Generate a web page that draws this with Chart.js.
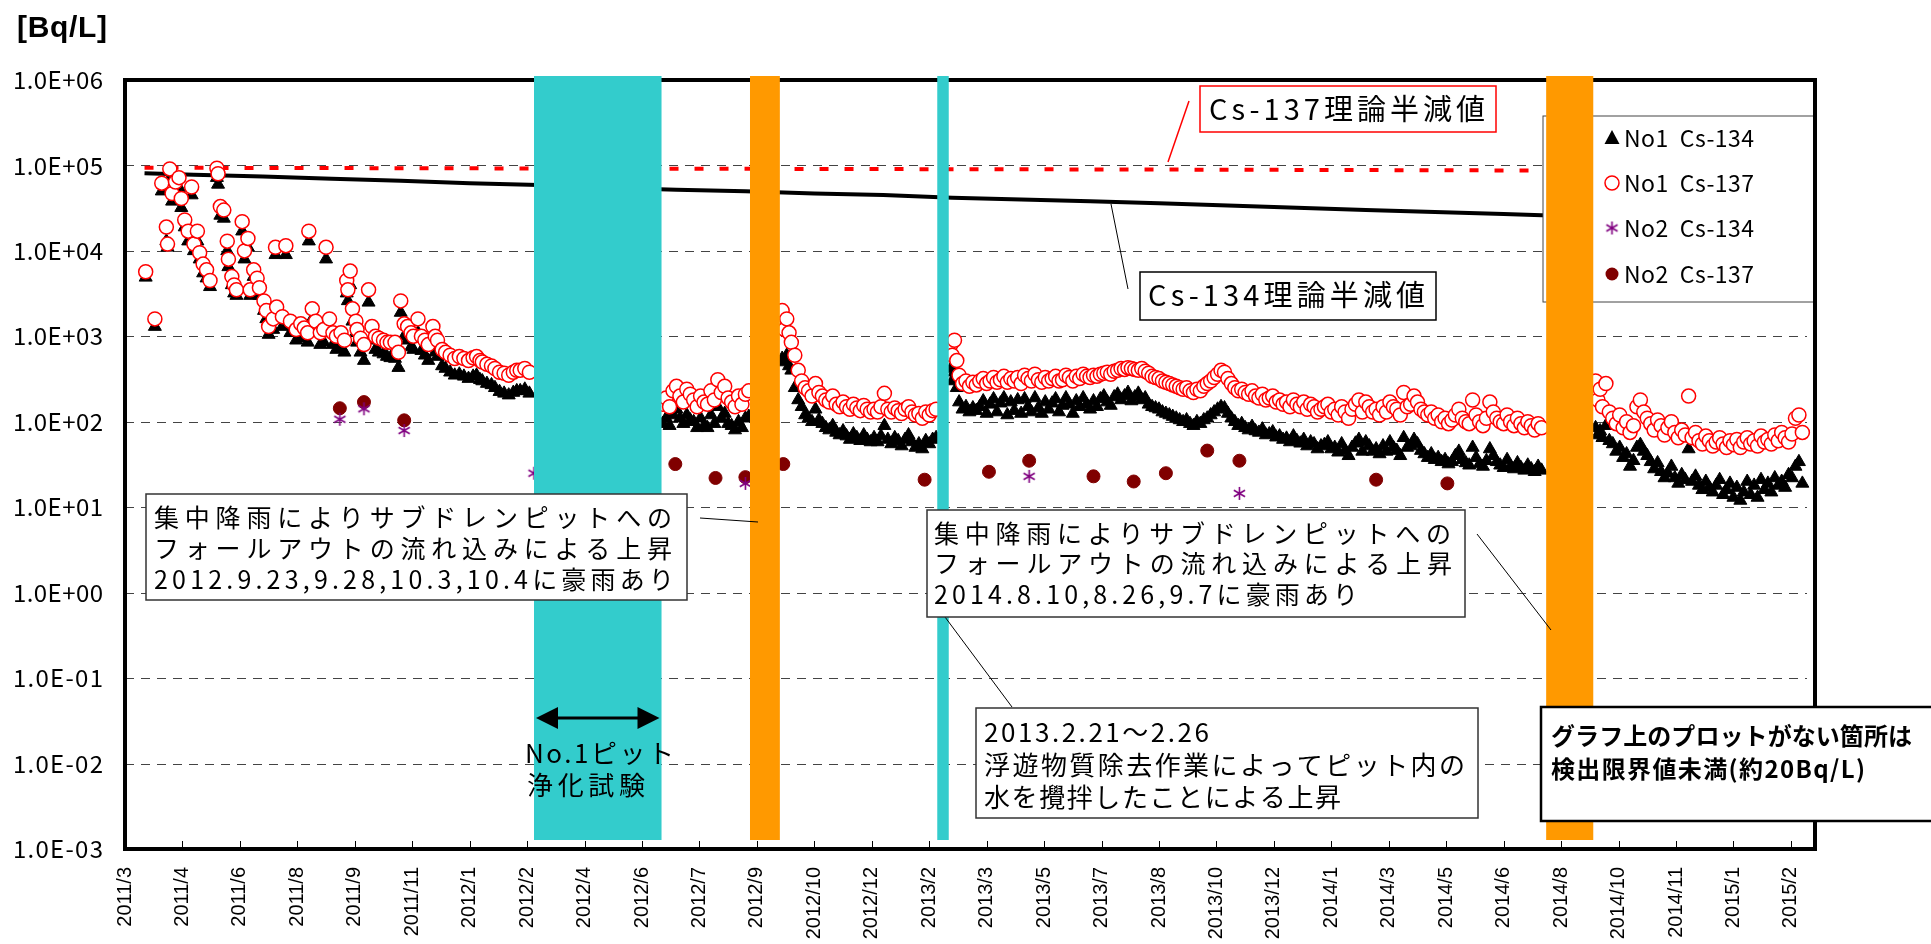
<!DOCTYPE html>
<html>
<head>
<meta charset="UTF-8">
<title>サブドレンピット Cs濃度推移</title>
<script src="https://cdn.jsdelivr.net/npm/chart.js"></script>
<style>
    html, body { margin: 0; padding: 0; background: #fff; }
    canvas { display: block; }
</style>
</head>
<body>
<canvas id="chart" width="1931" height="944"></canvas>
<script>
// x は 2011/3/11 からの経過日数（目盛は50日ごと）
const tickStep = 50;
const xMax = 1471;
const xTickLabels = ['2011/3','2011/4','2011/6','2011/8','2011/9','2011/11','2012/1','2012/2','2012/4','2012/6',
    '2012/7','2012/9','2012/10','2012/12','2013/2','2013/3','2013/5','2013/7','2013/8','2013/10',
    '2013/12','2014/1','2014/3','2014/5','2014/6','2014/8','2014/10','2014/11','2015/1','2015/2'];
const yTickValues = [1e-3, 1e-2, 1e-1, 1, 10, 100, 1e3, 1e4, 1e5, 1e6];
const yTickLabels = ['1.0E-03','1.0E-02','1.0E-01','1.0E+00','1.0E+01','1.0E+02','1.0E+03','1.0E+04','1.0E+05','1.0E+06'];

// No1 サンプリング日
const no1Days = [
    18,26,32,36,37,39,41,44,47,49, 52,55,58,60,63,65,68,71,74,80,
    81,83,86,89,90,93,95,97,102,104, 107,109,112,115,117,121,123,125,129,131,
    132,137,140,144,149,153,156,159,160,163, 166,170,173,175,178,181,184,188,191,193,
    194,196,198,201,202,205,208,212,215,218, 221,225,228,231,235,238,240,243,246,249,
    251,255,258,261,264,268,270,272,276,279, 283,287,291,295,299,303,306,309,311,315,
    319,322,326,330,334,338,341,344,348,352,
    468,471,474,477,480,483,486,489,492,495, 498,501,504,507,510,513,516,519,522,525,
    528,531,534,537,540,543,
    572,574,576,578,580,583,586,589,592,595, 598,601,604,607,610,613,616,619,622,625,
    628,631,634,637,640,643,646,649,652,655, 658,661,664,667,670,673,676,679,682,685,
    688,691,694,697,700,703,706,
    719,720,722,724,726,729,732,735,738,741, 744,747,750,753,756,759,762,765,768,771,
    774,777,780,783,786,789,792,795,798,801, 804,807,810,813,816,819,822,825,828,831,
    834,837,840,843,846,849,852,855,858,861, 864,867,870,873,876,879,882,885,888,891,
    894,897,900,903,906,909,912,915,918,921, 924,927,930,933,936,939,942,945,948,951,
    954,957,960,963,966,969,972,975,978,981, 984,987,990,993,996,999,1002,1005,1008,1011,
    1014,1017,1020,1023,1026,1029,1032,1035,1038,1041, 1044,1047,1050,1053,1056,1059,1062,1065,1068,1071,
    1074,1077,1080,1083,1086,1089,1092,1095,1098,1101, 1104,1107,1110,1113,1116,1119,1122,1125,1128,1131,
    1134,1137,1140,1143,1146,1149,1152,1155,1158,1161, 1164,1167,1170,1173,1176,1179,1182,1185,1188,1191,
    1194,1197,1200,1203,1206,1209,1212,1215,1218,1221, 1224,1227,1230,1233,
    1280,1282,1284,1286,1289,1292,1295,1298,1301,1304, 1307,1310,1313,1316,1319,1322,1325,1328,1331,1334,
    1337,1340,1343,1346,1349,1352,1355,1358,1361,1364, 1367,1370,1373,1376,1379,1382,1385,1388,1391,1394,
    1397,1400,1403,1406,1409,1412,1415,1418,1421,1424, 1427,1430,1433,1436,1439,1442,1445,1448,1451,1454,
    1457,1460
];
const no1Cs137 = [
    5700,1600,62000,19000,12000,91000,47000,64000,72000,41000, 23000,17000,56000,12000,17000,9500,7000,6000,4500,93000,
    80000,33000,30000,13000,8000,5000,4000,3500,22000,10000, 14000,3500,6000,4800,3700,2600,2000,1300,1600,11000,
    2200,1700,11500,1500,1200,1400,1250,1100,17000,2100, 1500,1100,1200,11000,1600,1100,1000,1100,900,4500,
    3500,5800,2100,1500,1200,950,800,3500,1300,1000, 950,900,850,850,850,650,2600,1400,1300,1100,
    1000,1600,1000,900,800,1300,1000,900,700,650, 600,550,580,550,520,560,580,520,500,470,
    450,420,380,370,350,380,400,400,420,380,
    160,190,150,230,260,200,170,240,210,180, 150,200,170,160,230,180,310,220,260,190,
    170,150,200,160,210,230,
    2000,1200,1600,1100,850,600,400,300,250,230, 200,280,220,200,180,170,200,160,150,170,
    150,140,160,145,135,155,140,130,140,130, 150,215,140,130,145,135,125,140,150,130,
    120,125,110,130,120,135,140,
    800,600,900,520,350,280,300,260,290,270, 300,320,280,300,330,290,310,340,290,320,
    300,330,280,350,320,300,360,310,290,330, 300,320,340,300,310,350,330,300,340,320,
    360,340,330,350,340,360,370,380,360,390, 400,420,410,430,420,410,400,420,390,370,
    340,330,320,300,290,280,270,260,250,240, 250,230,220,240,230,260,280,300,330,360,
    400,380,320,280,250,230,240,220,210,230, 200,190,210,180,190,200,170,180,160,170,
    150,180,160,150,170,140,160,150,130,140, 150,160,130,140,120,150,130,110,140,160,
    180,130,170,150,130,140,120,150,130,170, 150,140,120,220,150,160,200,170,140,130,
    120,130,110,120,100,110,95,105,120,140, 110,100,95,180,120,100,90,110,170,130,
    110,100,95,120,100,90,110,95,85,100, 90,80,95,85,
    300,180,240,150,280,130,110,95,120,85, 100,75,90,150,180,130,110,95,80,105,
    90,70,85,100,75,65,80,70,200,65, 75,60,55,68,60,52,58,65,55,50,
    60,54,62,50,58,65,55,60,52,68, 58,62,55,70,60,75,65,58,72,110,
    120,75
];
const no1Cs134 = [
    4900,1300,50000,13000,11000,70000,38000,50000,55000,32000, 19000,13000,45000,10000,13000,8000,5500,4800,3800,72000,
    60000,26000,24000,10000,6500,4000,3200,3000,17000,8000, 11000,3000,5000,4000,3000,2000,1600,1050,1200,9000,
    1800,1300,9000,1100,900,1000,950,850,13000,1600, 1100,800,850,8000,1200,800,700,750,650,3200,
    2600,4000,1500,1100,850,650,520,2500,900,700, 650,620,580,560,550,430,1900,1000,900,750,
    700,1100,680,600,520,850,650,580,450,420, 380,350,360,340,320,340,350,310,300,280,
    270,250,225,215,205,220,230,230,240,215,
    95,110,90,120,140,110,95,120,105,100, 85,110,90,85,120,95,150,110,125,95,
    90,80,100,85,110,115,
    550,500,600,450,400,250,180,150,120,110, 100,140,105,95,85,80,90,75,70,78,
    68,62,72,65,60,70,62,58,65,58, 68,90,62,55,65,60,52,62,70,58,
    50,55,48,60,55,62,65,
    420,300,380,250,170,140,150,130,145,135, 150,175,125,160,185,130,165,190,120,170,
    135,180,125,185,150,130,190,145,125,170, 140,165,185,130,155,190,160,125,175,150,
    190,160,140,175,150,185,200,170,155,195, 210,180,200,220,175,195,215,180,190,160,
    150,145,140,130,125,120,115,110,105,100, 105,95,90,100,95,105,110,120,130,140,
    150,145,125,110,100,90,95,85,80,88, 78,75,82,70,72,76,66,68,62,64,
    58,68,60,56,62,52,58,55,48,52, 54,58,48,50,44,55,46,40,50,56,
    62,45,58,52,45,48,42,52,45,58, 50,46,40,65,50,52,62,55,46,42,
    38,42,36,38,34,36,32,34,40,45, 36,33,31,50,38,32,30,35,48,40,
    34,31,29,36,30,28,33,29,27,31, 28,26,30,27,
    85,70,78,65,90,60,55,45,50,38, 42,30,35,50,54,45,40,34,28,33,
    26,22,25,30,22,19,24,21,48,20, 23,18,16,20,17,15,18,21,14,16,
    19,13,17,12,15,20,14,18,13,21, 16,19,15,22,18,20,17,24,22,30,
    34,19
];

// No2
const no2Days137 = [187, 208, 243, 479, 514, 540, 573, 696, 752, 787, 843, 878, 906, 942, 970, 1089, 1151];
const no2Cs137 = [144, 170, 104, 32, 22, 22.5, 32, 21, 26, 35, 23, 20, 25, 46, 35, 21, 19];
const no2Days134 = [187, 208, 243, 356, 540, 787, 970];
const no2Cs134 = [107, 142, 79, 25, 19, 23, 14.5];

// 理論半減値
const theoryDays134 = [17,60,120,180,240,300,360,420,480,540,600,660,720,780,840,900,960,1020,1080,1140,1200,1260,1320,1380,1440,1460];
const theoryCs134 = [81000,78000,74000,70000,66000,62000,59000,55000,52000,50000,47000,45000,42000,40000,38000,36000,34000,32000,30000,28500,27000,25500,24000,23000,21500,21000];
const theoryDays137 = [17, 300, 600, 900, 1200, 1460];
const theoryCs137 = [94000, 92500, 91000, 89500, 87500, 86000];

// 期間帯（日数）
const cyanBands = [[356, 467], [707, 717]];
const orangeBands = [[544, 570], [1237, 1278]];

const JP = '"Noto Sans CJK JP", "Noto Sans", sans-serif';
const LAT = '"Liberation Sans", Arial, sans-serif';

function pts(xs, ys) {
    const n = Math.min(xs.length, ys.length);
    const out = [];
    for (let i = 0; i < n; i++) out.push({x: xs[i], y: ys[i]});
    return out;
}

function makeAsterisk(color, size) {
    const c = document.createElement('canvas');
    c.width = size; c.height = size;
    const g = c.getContext('2d');
    g.strokeStyle = color;
    g.lineWidth = 1.6;
    const m = size / 2, r = size / 2 - 1;
    g.beginPath();
    [90, 30, 150].forEach(function(a) {
        const t = a * Math.PI / 180;
        g.moveTo(m - r * Math.cos(t), m - r * Math.sin(t));
        g.lineTo(m + r * Math.cos(t), m + r * Math.sin(t));
    });
    g.stroke();
    return c;
}
const asterisk = makeAsterisk('#800080', 15);

// 文字列を x0〜x1 に収まるよう字間を調整して描く
function spread(ctx, text, x0, x1, y) {
    ctx.letterSpacing = '0px';
    const w = ctx.measureText(text).width;
    const n = Array.from(text).length;
    const s = n > 1 ? (x1 - x0 - w) / (n - 1) : 0;
    ctx.letterSpacing = s.toFixed(2) + 'px';
    ctx.fillText(text, x0, y);
    ctx.letterSpacing = '0px';
}

function box(ctx, x0, y0, x1, y1, color, lw) {
    ctx.fillStyle = '#fff';
    ctx.fillRect(x0, y0, x1 - x0, y1 - y0);
    ctx.strokeStyle = color;
    ctx.lineWidth = lw;
    ctx.strokeRect(x0, y0, x1 - x0, y1 - y0);
}

function line(ctx, x0, y0, x1, y1, color, lw) {
    ctx.strokeStyle = color;
    ctx.lineWidth = lw;
    ctx.beginPath();
    ctx.moveTo(x0, y0);
    ctx.lineTo(x1, y1);
    ctx.stroke();
}

const overlay = {
    id: 'overlay',
    beforeDatasetsDraw(chart) {
        const {ctx, chartArea: a, scales: {y}} = chart;
        ctx.save();
        ctx.strokeStyle = '#444';
        ctx.lineWidth = 1;
        ctx.setLineDash([9, 7]);
        yTickValues.slice(1, -1).forEach(function(v) {
            const py = Math.round(y.getPixelForValue(v)) + 0.5;
            ctx.beginPath();
            ctx.moveTo(a.left, py);
            ctx.lineTo(a.right - 8, py);
            ctx.stroke();
        });
        ctx.setLineDash([]);
        // y 軸目盛ラベル
        ctx.fillStyle = '#000';
        ctx.font = '24px ' + JP;
        ctx.textBaseline = 'middle';
        ctx.textAlign = 'left';
        yTickLabels.forEach(function(t, i) {
            spread(ctx, t, 13, 103, y.getPixelForValue(yTickValues[i]));
        });
        ctx.restore();
    },
    afterDatasetsDraw(chart) {
        const {ctx, chartArea: a, scales: {x}} = chart;
        ctx.save();

        // 凡例
        box(ctx, 1543, 116, a.right, 302, '#444', 1);
        const ly = [138, 183, 228, 274];
        const lx = 1612;
        ctx.fillStyle = '#000';
        ctx.beginPath();
        ctx.moveTo(lx, ly[0] - 8); ctx.lineTo(lx + 7.5, ly[0] + 6); ctx.lineTo(lx - 7.5, ly[0] + 6);
        ctx.closePath(); ctx.fill();
        ctx.beginPath(); ctx.arc(lx, ly[1], 7, 0, Math.PI * 2);
        ctx.fillStyle = '#fff'; ctx.fill();
        ctx.strokeStyle = '#f00'; ctx.lineWidth = 1.5; ctx.stroke();
        ctx.drawImage(asterisk, lx - 7.5, ly[2] - 7.5);
        ctx.beginPath(); ctx.arc(lx, ly[3], 6.5, 0, Math.PI * 2);
        ctx.fillStyle = '#800000'; ctx.fill();
        ctx.fillStyle = '#000';
        ctx.font = '23px ' + JP;
        ctx.textBaseline = 'middle';
        ctx.textAlign = 'left';
        ['No1  Cs-134', 'No1  Cs-137', 'No2  Cs-134', 'No2  Cs-137'].forEach(function(t, i) {
            spread(ctx, t, 1624, 1754, ly[i]);
        });

        // 枠と目盛
        ctx.strokeStyle = '#000';
        ctx.lineWidth = 4;
        ctx.strokeRect(a.left, a.top, a.right - a.left, a.bottom - a.top);
        ctx.lineWidth = 1;
        xTickLabels.forEach(function(_, i) {
            const px = Math.round(x.getPixelForValue(i * tickStep)) + 0.5;
            ctx.beginPath();
            ctx.moveTo(px, a.bottom - 2);
            ctx.lineTo(px, a.bottom - 8);
            ctx.stroke();
        });

        // 期間帯
        const bt = a.top - 4, bb = a.bottom - 9;
        ctx.fillStyle = '#33CCCC';
        cyanBands.forEach(function(b) {
            const x0 = x.getPixelForValue(b[0]), x1 = x.getPixelForValue(b[1]);
            ctx.fillRect(x0, bt, x1 - x0, bb - bt);
        });
        ctx.fillStyle = '#FF9900';
        orangeBands.forEach(function(b) {
            const x0 = x.getPixelForValue(b[0]), x1 = x.getPixelForValue(b[1]);
            ctx.fillRect(x0, bt, x1 - x0, bb - bt);
        });

        // No.1ピット浄化試験
        const ax0 = x.getPixelForValue(cyanBands[0][0]) + 2;
        const ax1 = x.getPixelForValue(cyanBands[0][1]) - 2;
        const ay = 718;
        ctx.fillStyle = '#000';
        line(ctx, ax0 + 18, ay, ax1 - 18, ay, '#000', 3);
        ctx.beginPath();
        ctx.moveTo(ax0, ay); ctx.lineTo(ax0 + 22, ay - 11); ctx.lineTo(ax0 + 22, ay + 11); ctx.closePath(); ctx.fill();
        ctx.beginPath();
        ctx.moveTo(ax1, ay); ctx.lineTo(ax1 - 22, ay - 11); ctx.lineTo(ax1 - 22, ay + 11); ctx.closePath(); ctx.fill();
        ctx.font = '26px ' + JP;
        ctx.textBaseline = 'middle';
        spread(ctx, 'No.1ピット', 525, 674, 753);
        spread(ctx, '浄化試験', 527, 645, 785);

        // 引出線
        line(ctx, 1189, 101, 1168, 162, '#f00', 1.5);
        line(ctx, 1111, 204, 1128, 289, '#000', 1);
        line(ctx, 700, 518, 758, 522, '#000', 1);
        line(ctx, 1477, 534, 1551, 630, '#000', 1);
        line(ctx, 945, 617, 1012, 707, '#000', 1);

        // 理論半減値ラベル
        box(ctx, 1200, 86, 1496, 132, '#f00', 1.5);
        box(ctx, 1140, 272, 1436, 320, '#000', 1.5);
        ctx.fillStyle = '#000';
        ctx.font = '29px ' + JP;
        spread(ctx, 'Cs-137理論半減値', 1209, 1485, 109);
        spread(ctx, 'Cs-134理論半減値', 1148, 1425, 295);

        // コメント
        box(ctx, 146, 494, 687, 600, '#333', 1.5);
        ctx.fillStyle = '#000';
        ctx.font = '25px ' + JP;
        spread(ctx, '集中降雨によりサブドレンピットへの', 154, 672, 517);
        spread(ctx, 'フォールアウトの流れ込みによる上昇', 154, 672, 548);
        spread(ctx, '2012.9.23,9.28,10.3,10.4に豪雨あり', 154, 674, 579);

        box(ctx, 927, 510, 1465, 617, '#333', 1.5);
        ctx.fillStyle = '#000';
        spread(ctx, '集中降雨によりサブドレンピットへの', 934, 1451, 533);
        spread(ctx, 'フォールアウトの流れ込みによる上昇', 934, 1452, 563);
        spread(ctx, '2014.8.10,8.26,9.7に豪雨あり', 934, 1358, 594);

        box(ctx, 976, 708, 1478, 818, '#333', 1.5);
        ctx.fillStyle = '#000';
        ctx.font = '26px ' + JP;
        spread(ctx, '2013.2.21～2.26', 984, 1209, 732);
        spread(ctx, '浮遊物質除去作業によってピット内の', 984, 1465, 765);
        spread(ctx, '水を攪拌したことによる上昇', 984, 1341, 797);

        box(ctx, 1541, 707, 1940, 821, '#000', 2.5);
        ctx.fillStyle = '#000';
        ctx.font = 'bold 24px ' + JP;
        spread(ctx, 'グラフ上のプロットがない箇所は', 1551, 1912, 736);
        spread(ctx, '検出限界値未満(約20Bq/L)', 1551, 1865, 769);

        // 単位
        ctx.font = 'bold 30px ' + LAT;
        ctx.textBaseline = 'alphabetic';
        spread(ctx, '[Bq/L]', 17, 107, 37);

        ctx.restore();
    }
};

new Chart(document.getElementById('chart').getContext('2d'), {
    type: 'scatter',
    data: {
        datasets: [
            {
                label: 'No1 Cs-134',
                data: pts(no1Days, no1Cs134),
                pointStyle: 'triangle',
                pointRadius: 7.5,
                backgroundColor: '#000',
                borderColor: '#000',
                borderWidth: 1,
                order: 2
            },
            {
                label: 'No1 Cs-137',
                data: pts(no1Days, no1Cs137),
                pointStyle: 'circle',
                pointRadius: 7,
                backgroundColor: '#fff',
                borderColor: '#f00',
                borderWidth: 1.5,
                order: 1
            },
            {
                label: 'No2 Cs-134',
                data: pts(no2Days134, no2Cs134),
                pointStyle: asterisk,
                pointRadius: 7,
                order: 0
            },
            {
                label: 'No2 Cs-137',
                data: pts(no2Days137, no2Cs137),
                pointStyle: 'circle',
                pointRadius: 6.5,
                backgroundColor: '#800000',
                borderColor: '#800000',
                borderWidth: 1,
                order: 0
            },
            {
                label: 'Cs-134理論半減値',
                data: pts(theoryDays134, theoryCs134),
                showLine: true,
                pointRadius: 0,
                borderColor: '#000',
                borderWidth: 4,
                order: 3
            },
            {
                label: 'Cs-137理論半減値',
                data: pts(theoryDays137, theoryCs137),
                showLine: true,
                pointRadius: 0,
                borderColor: '#f00',
                borderWidth: 4,
                borderDash: [9, 16],
                borderCapStyle: 'butt',
                order: 4
            }
        ]
    },
    options: {
        responsive: false,
        animation: false,
        devicePixelRatio: 1,
        events: [],
        layout: { padding: { left: 0, right: 116, top: 80, bottom: 0 } },
        plugins: {
            legend: { display: false },
            tooltip: { enabled: false }
        },
        scales: {
            x: {
                type: 'linear',
                min: 0,
                max: xMax,
                grid: { display: false, drawTicks: false },
                border: { display: false },
                afterBuildTicks: function(s) {
                    s.ticks = xTickLabels.map(function(_, i) { return {value: i * tickStep}; });
                },
                afterFit: function(s) {
                    s.height = 95;
                    s.paddingLeft = 0;
                    s.paddingRight = 0;
                },
                ticks: {
                    autoSkip: false,
                    minRotation: 90,
                    maxRotation: 90,
                    padding: 18,
                    color: '#000',
                    font: { family: LAT, size: 20 },
                    callback: function(v, i) { return xTickLabels[i]; }
                }
            },
            y: {
                type: 'logarithmic',
                min: 1e-3,
                max: 1e6,
                grid: { display: false, drawTicks: false },
                border: { display: false },
                afterBuildTicks: function(s) {
                    s.ticks = yTickValues.map(function(v) { return {value: v}; });
                },
                afterFit: function(s) {
                    s.width = 125;
                    s.paddingTop = 0;
                    s.paddingBottom = 0;
                },
                ticks: { display: false }
            }
        }
    },
    plugins: [overlay]
});
</script>
</body>
</html>
